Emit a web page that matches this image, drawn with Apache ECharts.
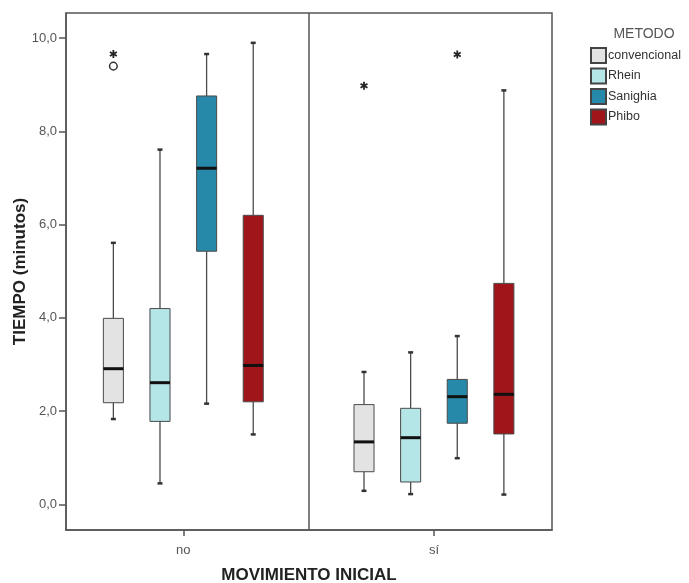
<!DOCTYPE html>
<html>
<head>
<meta charset="utf-8">
<script src="https://cdn.jsdelivr.net/npm/echarts@6/dist/echarts.min.js"></script>
<style>
  html, body { margin: 0; padding: 0; background: #fff; }
  #chart { width: 689px; height: 583px; }
</style>
</head>
<body>
<div id="chart"></div>
<script>
// grupos del eje x y métodos (leyenda)
const groups = ['no', 'sí'];
const methods = ['convencional', 'Rhein', 'Sanighia', 'Phibo'];
const colors = ['#e3e3e3', '#b4e5e7', '#2789a9', '#a0151a'];

// [min, Q1, mediana, Q3, max] para "no" y "sí"
const convencional = [[1.83, 2.18, 2.91, 3.99, 5.61], [0.29, 0.70, 1.34, 2.14, 2.84]];
const rhein = [[0.45, 1.78, 2.61, 4.20, 7.61], [0.22, 0.48, 1.43, 2.06, 3.26]];
const sanighia = [[2.16, 5.43, 7.21, 8.76, 9.66], [0.99, 1.74, 2.31, 2.68, 3.61]];
const phibo = [[1.50, 2.20, 2.98, 6.20, 9.90], [0.21, 1.51, 2.36, 4.74, 8.88]];

// atípicos: [grupo, método, valor, tipo]  ('o' atípico, '*' extremo)
const outliers = [
  [0, 0, 9.66, '*'],
  [0, 0, 9.40, 'o'],
  [1, 0, 8.98, '*'],
  [1, 2, 9.65, '*']
];

const yTicks = [0, 2, 4, 6, 8, 10];

const boxData = [convencional, rhein, sanighia, phibo];
const SLOT = 0.186;   // separación entre cajas (unidades del eje x)
const BOX_W = 0.08;   // ancho de caja (unidades del eje x)
const FONT = '"Liberation Sans", Arial, sans-serif';

const chart = echarts.init(document.getElementById('chart'));

function boxRenderer(m) {
  return function (params, api) {
    const x = api.value(0) + (m - 1.5) * SLOT;
    const cx = api.coord([x, 0])[0];
    const hw = api.size([BOX_W, 0])[0] / 2;
    const y = [1, 2, 3, 4, 5].map(i => api.coord([x, api.value(i)])[1]);
    const line = (x1, y1, x2, y2, w, c) => ({
      type: 'line',
      shape: { x1, y1, x2, y2 },
      style: { stroke: c, lineWidth: w }
    });
    return {
      type: 'group',
      children: [
        line(cx, y[0], cx, y[1], 1.3, '#4a4a4a'),
        line(cx, y[3], cx, y[4], 1.3, '#4a4a4a'),
        line(cx - 2.5, y[0], cx + 2.5, y[0], 2.5, '#333'),
        line(cx - 2.5, y[4], cx + 2.5, y[4], 2.5, '#333'),
        {
          type: 'rect',
          shape: { x: cx - hw, y: y[3], width: hw * 2, height: y[1] - y[3] },
          style: { fill: colors[m], stroke: '#4a4a4a', lineWidth: 1 }
        },
        line(cx - hw, y[2], cx + hw, y[2], 3, '#111')
      ]
    };
  };
}

function outlierRenderer(params, api) {
  const x = api.value(0) + (api.value(1) - 1.5) * SLOT;
  const p = api.coord([x, api.value(2)]);
  const kind = outliers[params.dataIndex][3];
  if (kind === 'o') {
    return {
      type: 'circle',
      shape: { cx: p[0], cy: p[1], r: 3.8 },
      style: { fill: 'none', stroke: '#333', lineWidth: 1.5 }
    };
  }
  const r = 4;
  const children = [90, 30, 150].map(a => {
    const dx = Math.cos(a * Math.PI / 180) * r;
    const dy = Math.sin(a * Math.PI / 180) * r;
    return {
      type: 'line',
      shape: { x1: p[0] - dx, y1: p[1] - dy, x2: p[0] + dx, y2: p[1] + dy },
      style: { stroke: '#222', lineWidth: 1.8 }
    };
  });
  return { type: 'group', children };
}

const series = methods.map((name, m) => ({
  name: name,
  type: 'custom',
  renderItem: boxRenderer(m),
  itemStyle: { color: colors[m], borderColor: '#444', borderWidth: 1 },
  encode: { x: 0, y: [1, 2, 3, 4, 5] },
  data: boxData[m].map((d, g) => [g].concat(d)),
  silent: true
}));

series.push({
  name: 'atípicos',
  type: 'custom',
  renderItem: outlierRenderer,
  encode: { x: 0, y: 2 },
  data: outliers.map(o => [o[0], o[1], o[2]]),
  silent: true,
  markLine: {
    silent: true,
    symbol: 'none',
    label: { show: false },
    lineStyle: { color: '#555', width: 1.5, type: 'solid' },
    data: [{ xAxis: 0.5 }]
  }
});

const option = {
  animation: false,
  title: {
    text: 'METODO',
    left: 639,
    top: 22,
    textAlign: 'center',
    textStyle: { fontFamily: FONT, fontSize: 14, fontWeight: 'normal', color: '#555' }
  },
  legend: {
    data: methods,
    orient: 'vertical',
    left: 590,
    top: 47,
    padding: 0,
    itemWidth: 15,
    itemHeight: 15,
    itemGap: 3.5,
    icon: 'rect',
    textStyle: { fontFamily: FONT, fontSize: 12.5, color: '#333', padding: [0, 0, 0, -3] }
  },
  grid: {
    left: 66,
    top: 13,
    right: 137,
    bottom: 53,
    show: true,
    borderColor: '#555',
    borderWidth: 1.5,
    containLabel: false,
    outerBoundsMode: 'none'
  },
  xAxis: {
    type: 'value',
    min: -0.468,
    max: 1.471,
    name: 'MOVIMIENTO INICIAL',
    nameLocation: 'middle',
    nameGap: 37,
    nameMoveOverlap: false,
    nameTextStyle: { fontFamily: FONT, fontSize: 17, fontWeight: 'bold', color: '#222' },
    splitLine: { show: false },
    axisLine: { show: true, onZero: false, lineStyle: { color: '#555', width: 1.5 } },
    axisTick: { show: true, length: 6, customValues: [0, 1], lineStyle: { color: '#555', width: 1.5 } },
    axisLabel: {
      customValues: [0, 1],
      margin: 14,
      fontFamily: FONT,
      fontSize: 13,
      color: '#555',
      formatter: v => groups[Math.round(v)]
    }
  },
  yAxis: {
    type: 'value',
    min: -0.55,
    max: 10.54,
    name: 'TIEMPO (minutos)',
    nameLocation: 'middle',
    nameGap: 37,
    nameMoveOverlap: false,
    nameTextStyle: { fontFamily: FONT, fontSize: 17, fontWeight: 'bold', color: '#222' },
    splitLine: { show: false },
    axisLine: { show: true, onZero: false, lineStyle: { color: '#555', width: 1.5 } },
    axisTick: { show: true, length: 7, customValues: yTicks, lineStyle: { color: '#555', width: 1.5 } },
    axisLabel: {
      customValues: yTicks,
      margin: 9,
      fontFamily: FONT,
      fontSize: 13,
      color: '#555',
      formatter: v => v.toFixed(1).replace('.', ',')
    }
  },
  series: series
};

chart.setOption(option);
</script>
</body>
</html>
